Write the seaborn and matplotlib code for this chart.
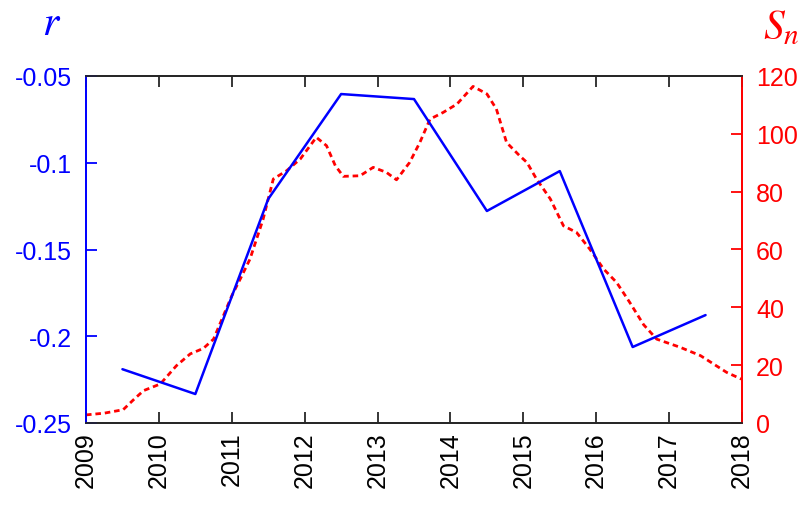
import matplotlib
matplotlib.use("Agg")
import matplotlib.pyplot as plt
import matplotlib.ticker as mticker
import seaborn as sns
import pandas as pd

# Blue series: correlation r (yearly, plotted at mid-year)
r_years = [2009.5, 2010.5, 2011.5, 2012.5, 2013.5, 2014.5, 2015.5, 2016.5, 2017.5]
r_values = [-0.219, -0.2333, -0.1209, -0.0604, -0.0633, -0.1278, -0.1048, -0.2062, -0.1878]

# Red series: Sn (smoothed sunspot-like number)
sn_years = [2009.0, 2009.25, 2009.51, 2009.65, 2009.79, 2010.02, 2010.24, 2010.43, 2010.61,
            2010.75, 2010.9, 2011.0, 2011.12, 2011.25, 2011.43, 2011.57, 2011.75, 2011.94,
            2012.16, 2012.30, 2012.42, 2012.53, 2012.76, 2012.94, 2013.12, 2013.26, 2013.44,
            2013.58, 2013.72, 2013.90, 2014.09, 2014.31, 2014.50, 2014.63, 2014.77, 2014.95,
            2015.05, 2015.18, 2015.37, 2015.55, 2015.73, 2015.91, 2016.10, 2016.28, 2016.46,
            2016.65, 2016.83, 2017.15, 2017.43, 2017.61, 2017.79, 2017.99]
sn_values = [2.8, 3.4, 4.6, 8.0, 11.2, 13.5, 19.8, 23.9, 25.8,
             29.0, 38.0, 44.0, 50.0, 56.7, 70.5, 84.4, 87.2, 91.3,
             98.8, 95.9, 89.0, 85.3, 85.5, 88.4, 86.7, 84.1, 90.1,
             97.0, 105.1, 107.4, 110.3, 116.4, 113.8, 108.6, 97.0, 92.4,
             90.1, 84.4, 77.5, 68.2, 65.9, 60.2, 53.3, 48.6, 41.7,
             34.0, 29.0, 26.2, 23.3, 20.4, 17.5, 15.2]

x_ticks = list(range(2009, 2019))
r_ticks = [-0.25, -0.2, -0.15, -0.1, -0.05]
sn_ticks = [0, 20, 40, 60, 80, 100, 120]

sns.set_style("ticks")
plt.rcParams["font.family"] = ["Liberation Sans", "DejaVu Sans"]
plt.rcParams["axes.unicode_minus"] = False
plt.rcParams["mathtext.fontset"] = "stix"

fig = plt.figure(figsize=(8.03, 5.06), dpi=100)
ax = fig.add_axes([86 / 803, 1 - 424 / 506, (742 - 86) / 803, (424 - 77) / 506])
ax2 = ax.twinx()

df_r = pd.DataFrame({"year": r_years, "r": r_values})
df_s = pd.DataFrame({"year": sn_years, "Sn": sn_values})

sns.lineplot(data=df_s, x="year", y="Sn", ax=ax2, color="#ff0000", lw=2.0,
             linestyle=(0, (2.0, 1.4)), sort=False)
sns.lineplot(data=df_r, x="year", y="r", ax=ax, color="#0000ff", lw=1.8, sort=False)
ax.set_zorder(ax2.get_zorder() + 1)
ax.patch.set_visible(False)

ax.set_xlim(2009, 2018)
ax.set_ylim(-0.25, -0.05)
ax2.set_ylim(0, 120)
ax.set_xticks(x_ticks)
ax.set_xticklabels([str(t) for t in x_ticks], rotation=90)
ax.set_yticks(r_ticks)
ax.yaxis.set_major_formatter(mticker.FormatStrFormatter("%g"))
ax2.set_yticks(sn_ticks)
ax.set_xlabel("")
ax.set_ylabel("")
ax2.set_ylabel("")

dark = "#262626"
for a in (ax, ax2):
    for s in a.spines.values():
        s.set_linewidth(1.3)
        s.set_color(dark)
ax.spines["left"].set_color("#0000ff")
ax2.spines["left"].set_color("#0000ff")
ax2.spines["right"].set_color("#ff0000")
ax.spines["right"].set_color("#ff0000")

ax.tick_params(axis="x", direction="in", length=8, width=1.3, color=dark,
               labelsize=18, labelcolor="black", top=True, pad=6)
ax.tick_params(axis="y", direction="in", length=8, width=1.3, colors="#0000ff",
               labelsize=18, left=True, right=False, pad=10)
ax2.tick_params(axis="y", direction="in", length=8, width=1.3, colors="#ff0000",
                labelsize=18, pad=10)

fig.text(52 / 803, 1 - 24 / 506, r"$r$", color="#0000ff", fontsize=30,
         ha="center", va="center")
fig.text(781 / 803, 1 - 28 / 506, r"$S_n$", color="#ff0000", fontsize=30,
         ha="center", va="center")

fig.savefig("out.png", dpi=100)
